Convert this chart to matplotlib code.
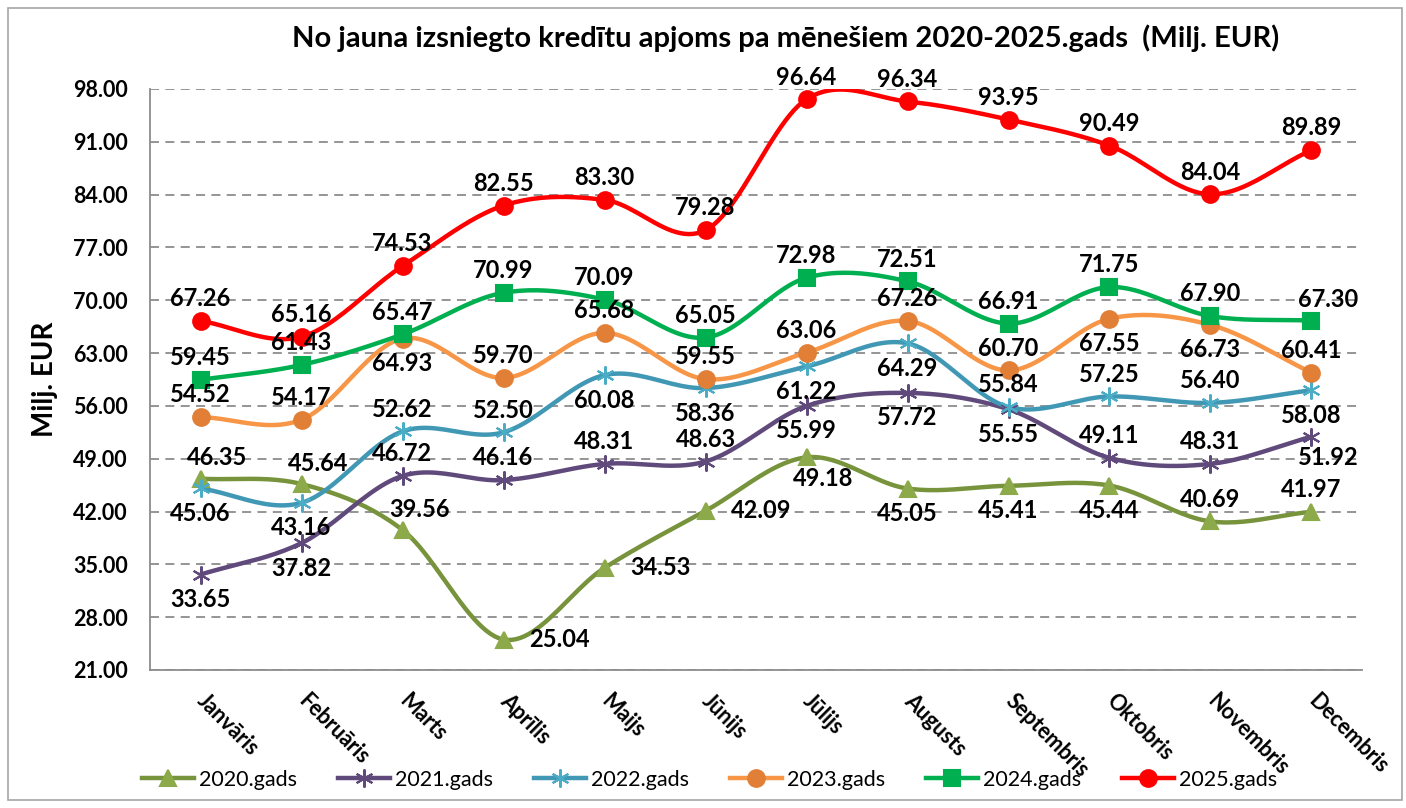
import matplotlib
matplotlib.use("Agg")
import matplotlib.pyplot as plt
from matplotlib.lines import Line2D
from matplotlib.patches import Rectangle
import numpy as np

months = ["Janvāris", "Februāris", "Marts", "Aprīlis", "Maijs", "Jūnijs",
          "Jūlijs", "Augusts", "Septembris", "Oktobris", "Novembris", "Decembris"]

y2020 = [46.35, 45.64, 39.56, 25.04, 34.53, 42.09, 49.18, 45.05, 45.41, 45.44, 40.69, 41.97]
y2021 = [33.65, 37.82, 46.72, 46.16, 48.31, 48.63, 55.99, 57.72, 55.55, 49.11, 48.31, 51.92]
y2022 = [45.06, 43.16, 52.62, 52.50, 60.08, 58.36, 61.22, 64.29, 55.84, 57.25, 56.40, 58.08]
y2023 = [54.52, 54.17, 64.93, 59.70, 65.68, 59.55, 63.06, 67.26, 60.70, 67.55, 66.73, 60.41]
y2024 = [59.45, 61.43, 65.47, 70.99, 70.09, 65.05, 72.98, 72.51, 66.91, 71.75, 67.90, 67.30]
y2025 = [67.26, 65.16, 74.53, 82.55, 83.30, 79.28, 96.64, 96.34, 93.95, 90.49, 84.04, 89.89]

series_names = ["2020.gads", "2021.gads", "2022.gads", "2023.gads", "2024.gads", "2025.gads"]

# label placement per point: a=above, b=below, r=right, ar=above right, br=below right
place = {
    "2020.gads": ["ar", "ar", "ar", "r", "r", "r", "br", "b", "b", "b", "a", "a"],
    "2021.gads": ["b", "b", "a", "a", "a", "a", "b", "b", "b", "a", "a", "br"],
    "2022.gads": ["b", "b", "a", "a", "b", "b", "b", "b", "a", "a", "a", "b"],
    "2023.gads": ["a", "a", "b", "a", "a", "a", "a", "a", "a", "b", "b", "a"],
    "2024.gads": ["a", "a", "a", "a", "a", "a", "a", "a", "a", "a", "a", "ar"],
    "2025.gads": ["a"] * 12,
}
offsets = {"a": (0, 16), "b": (0, -18), "r": (40, 0), "ar": (12, 15), "br": (12, -15)}

styles = {
    "2020.gads": dict(color="#77933C", marker="^", mfc="#8DAA4B", mec="#8DAA4B", ms=12),
    "2021.gads": dict(color="#604A7B", marker=(6, 2, 0), mfc="#604A7B", mec="#604A7B", ms=13),
    "2022.gads": dict(color="#4198B5", marker=(6, 2, 0), mfc="#4BACC6", mec="#4BACC6", ms=13),
    "2023.gads": dict(color="#F79646", marker="o", mfc="#E07F35", mec="#E07F35", ms=12),
    "2024.gads": dict(color="#00B050", marker="s", mfc="#00B050", mec="#00B050", ms=11),
    "2025.gads": dict(color="#FF0000", marker="o", mfc="#FF0000", mec="#FF0000", ms=12),
}


def smooth(x, y, n=24):
    # Catmull-Rom curve through the points, like Excel's smoothed line
    x = np.asarray(x, float)
    y = np.asarray(y, float)
    px = np.concatenate([[2 * x[0] - x[1]], x, [2 * x[-1] - x[-2]]])
    py = np.concatenate([[2 * y[0] - y[1]], y, [2 * y[-1] - y[-2]]])
    xs, ys = [], []
    t = np.linspace(0, 1, n, endpoint=False)
    for i in range(1, len(px) - 2):
        for p, out in ((px, xs), (py, ys)):
            p0, p1, p2, p3 = p[i - 1], p[i], p[i + 1], p[i + 2]
            out.extend(0.5 * ((2 * p1) + (-p0 + p2) * t
                              + (2 * p0 - 5 * p1 + 4 * p2 - p3) * t ** 2
                              + (-p0 + 3 * p1 - 3 * p2 + p3) * t ** 3))
    xs.append(x[-1])
    ys.append(y[-1])
    return np.array(xs), np.array(ys)


plt.rcParams["font.family"] = ["Lato", "DejaVu Sans"]

fig = plt.figure(figsize=(14.06, 8.08), dpi=100)
ax = fig.add_axes([0.1067, 0.1708, 0.862, 0.7191])

x = np.arange(len(months))
all_series = [y2020, y2021, y2022, y2023, y2024, y2025]
handles = []
for name, vals in zip(series_names, all_series):
    st = styles[name]
    sx, sy = smooth(x, vals)
    ax.plot(sx, sy, color=st["color"], lw=3.2, zorder=3, solid_capstyle="round")
    ax.plot(x, vals, ls="none", marker=st["marker"], ms=st["ms"], mfc=st["mfc"],
            mec=st["mec"], mew=1.5, zorder=4)
    for xi, v, p in zip(x, vals, place[name]):
        dx, dy = offsets[p]
        ax.annotate(f"{v:.2f}", (xi, v), xytext=(dx, dy), textcoords="offset points",
                    ha="center", va="center", fontsize=17, fontweight="bold",
                    color="black", zorder=6, annotation_clip=False)
    handles.append(Line2D([0], [0], color=st["color"], lw=3.2, marker=st["marker"],
                          ms=st["ms"], mfc=st["mfc"], mec=st["mec"], mew=1.5))

ax.set_xlim(-0.5, 11.5)
ax.set_ylim(21, 98)
yt = np.arange(21, 99, 7)
ax.set_yticks(yt)
ax.set_yticklabels([f"{v:.2f}" for v in yt], fontsize=15.5, fontweight="bold")
ax.tick_params(axis="y", length=0, pad=16)
ax.set_xticks(x)
ax.set_xticklabels(months, rotation=-45, rotation_mode="anchor", ha="left", va="center",
                   fontsize=15.5, fontweight="bold")
ax.tick_params(axis="x", length=0, pad=20)

ax.yaxis.grid(True, color="#8C8C8C", ls=(0, (5, 3.5)), lw=1.3)
ax.set_axisbelow(True)
for s in ["top", "right"]:
    ax.spines[s].set_visible(False)
for s in ["left", "bottom"]:
    ax.spines[s].set_color("#8C8C8C")
    ax.spines[s].set_linewidth(1.3)

fig.text(0.559, 0.953, "No jauna izsniegto kredītu apjoms pa mēnešiem 2020-2025.gads  (Milj. EUR)",
         ha="center", va="center", fontsize=21, fontweight="bold")
fig.text(0.032, 0.53, "Milj. EUR", rotation=90, ha="center", va="center",
         fontsize=20, fontweight="bold")

fig.legend(handles, series_names, loc="center", bbox_to_anchor=(0.505, 0.035), ncol=6,
           frameon=False, fontsize=15.5, handlelength=2.4, columnspacing=1.9, handletextpad=0.25)

fig.patches.append(Rectangle((8 / 1406, 8 / 808), 1394 / 1406, 792 / 808, transform=fig.transFigure,
                             fill=False, edgecolor="#A6A6A6", lw=1.2))

fig.savefig("out.png", dpi=100)
